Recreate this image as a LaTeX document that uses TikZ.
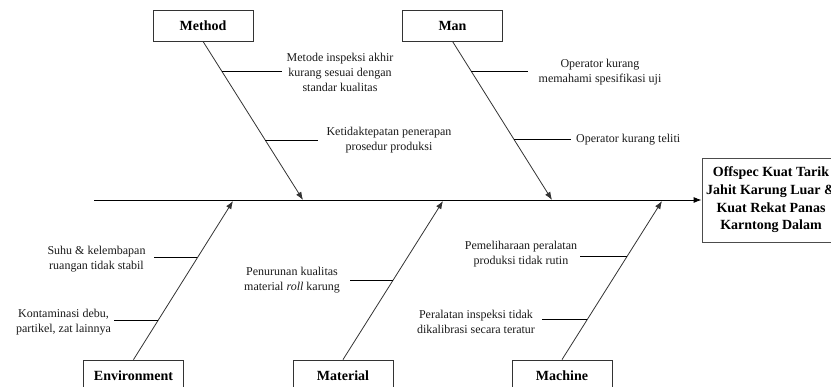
\documentclass[tikz,border=0pt]{standalone}
\usepackage{fontspec}
\setmainfont{Liberation Serif}
\usetikzlibrary{arrows.meta}
\begin{document}
\begin{tikzpicture}[x=1pt,y=-1pt,
  catbox/.style={draw=black!80, line width=0.8pt, minimum width=100pt, minimum height=31pt,
    font=\fontsize{14}{17}\selectfont\bfseries, inner sep=0pt},
  effbox/.style={draw=black!70, line width=0.8pt, minimum width=138pt, minimum height=84pt,
    align=center, inner sep=0pt, font=\fontsize{14}{17.7}\selectfont\bfseries},
  cause/.style={font=\fontsize{12}{15}\selectfont, align=center, inner sep=0pt, text=black!90},
  bone/.style={draw=black!80, line width=0.8pt, -{Latex[length=8pt,width=6pt]}},
  spine/.style={draw=black, line width=0.9pt, -{Latex[length=8pt,width=6pt]}},
  twig/.style={draw=black, line width=0.8pt}]
\useasboundingbox (0,0) rectangle (831,387);
\clip (0,0) rectangle (831,387);

% category boxes
\node[catbox] (method) at (203,25.5) {Method};
\node[catbox] (man) at (452.5,25.5) {Man};
\node[catbox] (env) at (133.5,375.5) {Environment};
\node[catbox] (mat) at (343,375.5) {Material};
\node[catbox] (mach) at (562,375.5) {Machine};

% effect
\node[effbox] (eff) at (771,200) {Offspec Kuat Tarik\\Jahit Karung Luar \&\\Kuat Rekat Panas\\Karntong Dalam};

% spine
\coordinate (tail) at (94,200);
\draw[spine] (tail) -- (eff.west);

% heads on spine
\coordinate (mhead) at (303,200);
\coordinate (nhead) at (552,200);
\coordinate (ehead) at (233,201);
\coordinate (ahead) at (443,201);
\coordinate (chead) at (662,201);

% bones
\draw[bone] (method.south) -- (mhead);
\draw[bone] (man.south) -- (nhead);
\draw[bone] (env.north) -- (ehead);
\draw[bone] (mat.north) -- (ahead);
\draw[bone] (mach.north) -- (chead);

% points on bones
\path (method.south) -- (mhead) coordinate[pos=0.1887] (m1) coordinate[pos=0.6226] (m2);
\path (man.south) -- (nhead) coordinate[pos=0.1887] (n1) coordinate[pos=0.6164] (n2);
\path (env.north) -- (ehead) coordinate[pos=0.6415] (e1) coordinate[pos=0.2453] (e2);
\path (mat.north) -- (ahead) coordinate[pos=0.4969] (a1);
\path (mach.north) -- (chead) coordinate[pos=0.6478] (c1) coordinate[pos=0.2516] (c2);

% cause texts
\node[cause] (tm1) at (340,72.5) {Metode inspeksi akhir\\kurang sesuai dengan\\standar kualitas};
\node[cause] (tm2) at (389,140.5) {Ketidaktepatan penerapan\\prosedur produksi};
\node[cause] (tn1) at (600,72.5) {Operator kurang\\memahami spesifikasi uji};
\node[cause, anchor=west] (tn2) at (576,139.5) {Operator kurang teliti};
\node[cause] (te1) at (96.5,259) {Suhu \& kelembapan\\ruangan tidak stabil};
\node[cause] (te2) at (63.5,322.5) {Kontaminasi debu,\\partikel, zat lainnya};
\node[cause] (ta1) at (292,280.5) {Penurunan kualitas\\material \textit{roll} karung};
\node[cause] (tc1) at (521,254.5) {Pemeliharaan peralatan\\produksi tidak rutin};
\node[cause] (tc2) at (476,321.5) {Peralatan inspeksi tidak\\dikalibrasi secara teratur};

% twigs
\draw[twig, shorten >=4pt] (m1) -- (m1 -| tm1.west);
\draw[twig, shorten >=8pt] (m2) -- (m2 -| tm2.west);
\draw[twig, shorten >=10pt] (n1) -- (n1 -| tn1.west);
\draw[twig, shorten >=5pt] (n2) -- (n2 -| tn2.west);
\draw[twig, shorten >=8pt] (e1) -- (e1 -| te1.east);
\draw[twig, shorten >=3pt] (e2) -- (e2 -| te2.east);
\draw[twig, shorten >=10pt] (a1) -- (a1 -| ta1.east);
\draw[twig, shorten >=3pt] (c1) -- (c1 -| tc1.east);
\draw[twig, shorten >=7pt] (c2) -- (c2 -| tc2.east);
\end{tikzpicture}
\end{document}
